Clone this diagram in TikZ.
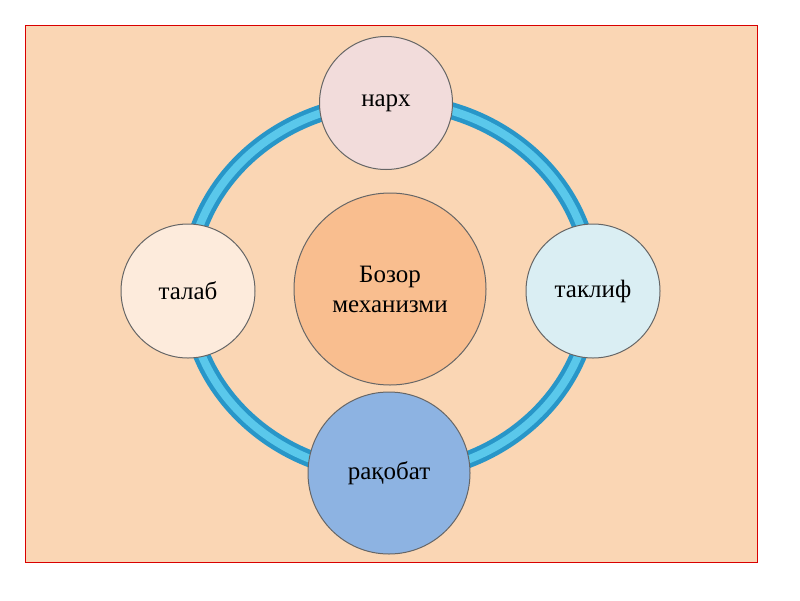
\documentclass[tikz,border=0pt]{standalone}
\usepackage{fontspec}
\setmainfont{Liberation Serif}
\definecolor{bg}{RGB}{250,214,180}
\definecolor{ringA}{RGB}{40,150,200}
\definecolor{ringB}{RGB}{90,200,235}
\definecolor{cN}{RGB}{242,220,219}
\definecolor{cT}{RGB}{253,235,220}
\definecolor{cK}{RGB}{218,238,243}
\definecolor{cR}{RGB}{141,179,226}
\definecolor{cC}{RGB}{249,190,143}
\begin{document}
\begin{tikzpicture}[x=1pt,y=-1pt,
  bub/.style={circle,draw=black!60,line width=1pt,inner sep=0pt,font=\fontsize{25}{30}\selectfont,align=center}]
\useasboundingbox (0,0) rectangle (800,600);
\fill[white] (0,0) rectangle (800,600);
\draw[red!85!black,fill=bg] (25,25) rectangle (757,562);
\draw[line width=17pt,ringA] (390,288) ellipse [x radius=202,y radius=186];
\draw[line width=8pt,ringB] (390,288) ellipse [x radius=202,y radius=186];
\node[bub,minimum size=133pt,fill=cN] (n) at (386,103) {нарх};
\node[bub,minimum size=134pt,fill=cT] (t) at (188,291) {талаб};
\node[bub,minimum size=134pt,fill=cK] (k) at (593,291) {таклиф};
\node[bub,minimum size=162pt,fill=cR] (r) at (389,473) {рақобат};
\node[bub,minimum size=192pt,fill=cC] (c) at (390,289) {Бозор\\механизми};
\end{tikzpicture}
\end{document}
